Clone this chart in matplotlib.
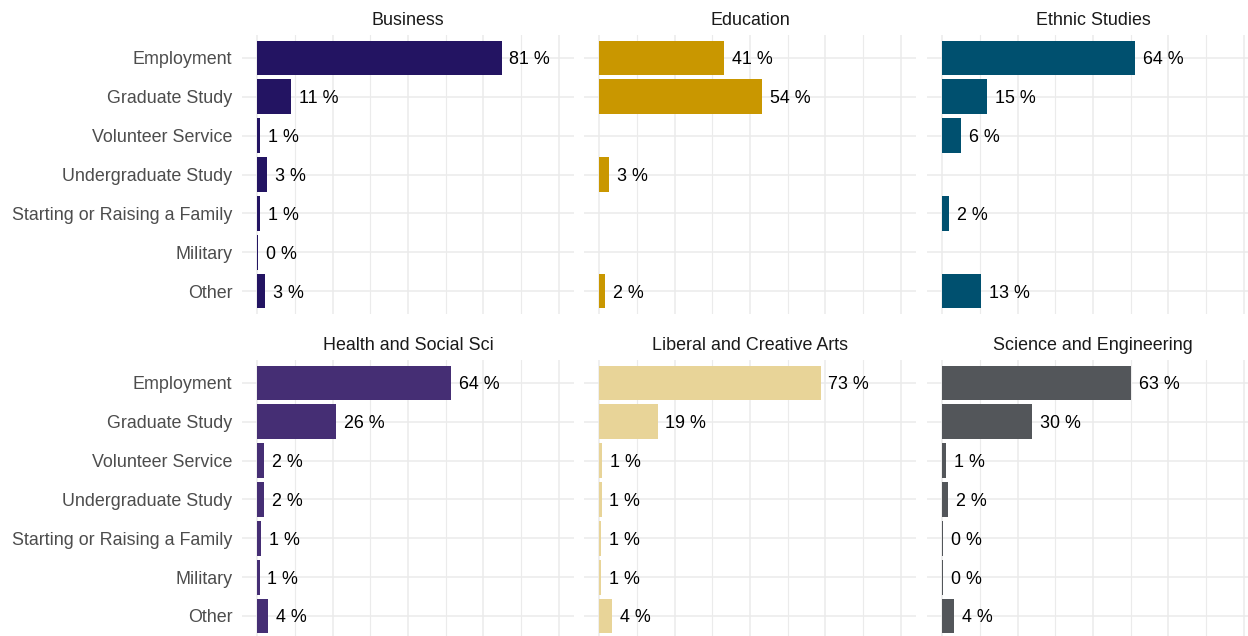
import numpy as np
import matplotlib
matplotlib.use("Agg")
import matplotlib.pyplot as plt

# categories (top to bottom) and facet panels
categories = ["Employment", "Graduate Study", "Volunteer Service", "Undergraduate Study",
              "Starting or Raising a Family", "Military", "Other"]
colleges = ["Business", "Education", "Ethnic Studies",
            "Health and Social Sci", "Liberal and Creative Arts", "Science and Engineering"]
colors = ["#231462", "#C99700", "#00506F", "#452E74", "#E8D498", "#53565A"]

nan = np.nan
business = [81.0, 11.4, 1.0, 3.3, 1.0, 0.4, 2.6]
education = [41.4, 54.0, nan, 3.3, nan, nan, 2.0]
ethnic = [64.0, 14.9, 6.4, nan, 2.3, nan, 12.9]
health = [64.4, 26.2, 2.3, 2.3, 1.3, 0.9, 3.6]
liberal = [73.4, 19.4, 1.0, 0.8, 0.7, 0.7, 4.4]
science = [62.6, 29.8, 1.4, 2.0, 0.4, 0.3, 4.0]
values = [business, education, ethnic, health, liberal, science]

plt.rcParams["font.family"] = ["Liberation Sans", "DejaVu Sans"]

W, H = 1248, 636
fig = plt.figure(figsize=(W / 100, H / 100), dpi=100)

col_left = [242, 584, 927]
panel_w = 332
row_top = [34.7, 359.7]
panel_h = 279.6

fs = 12.9
grid = "#EBEBEB"
for k, (name, vals, col) in enumerate(zip(colleges, values, colors)):
    r, c = divmod(k, 3)
    x0, y0 = col_left[c], row_top[r]
    ax = fig.add_axes([x0 / W, 1 - (y0 + panel_h) / H, panel_w / W, panel_h / H])
    ypos = np.arange(len(categories))
    for i, v in enumerate(vals):
        if np.isnan(v):
            continue
        ax.barh(i, v, height=0.9, color=col, zorder=3)
        ax.annotate(f"{int(round(v))} %", (v, i), xytext=(5.5, 0),
                    textcoords="offset points", va="center_baseline", ha="left",
                    fontsize=fs, color="black", zorder=4)
    ax.set_xlim(-5, 105)
    ax.set_ylim(6.6, -0.6)
    ax.set_xticks([0, 25, 50, 75, 100])
    ax.set_xticks([12.5, 37.5, 62.5, 87.5], minor=True)
    ax.set_xticklabels([])
    ax.set_yticks(ypos)
    if c == 0:
        ax.set_yticklabels(categories, fontsize=fs, color="#4D4D4D")
    else:
        ax.set_yticklabels([])
    ax.tick_params(axis="both", which="both", length=0, pad=7)
    ax.grid(True, which="major", color=grid, linewidth=1.1, zorder=0)
    ax.grid(True, which="minor", axis="x", color=grid, linewidth=0.8, zorder=0)
    for s in ax.spines.values():
        s.set_visible(False)
    ax.set_title(name, fontsize=fs, color="#1A1A1A", pad=7)

fig.savefig("out.png", dpi=100)
